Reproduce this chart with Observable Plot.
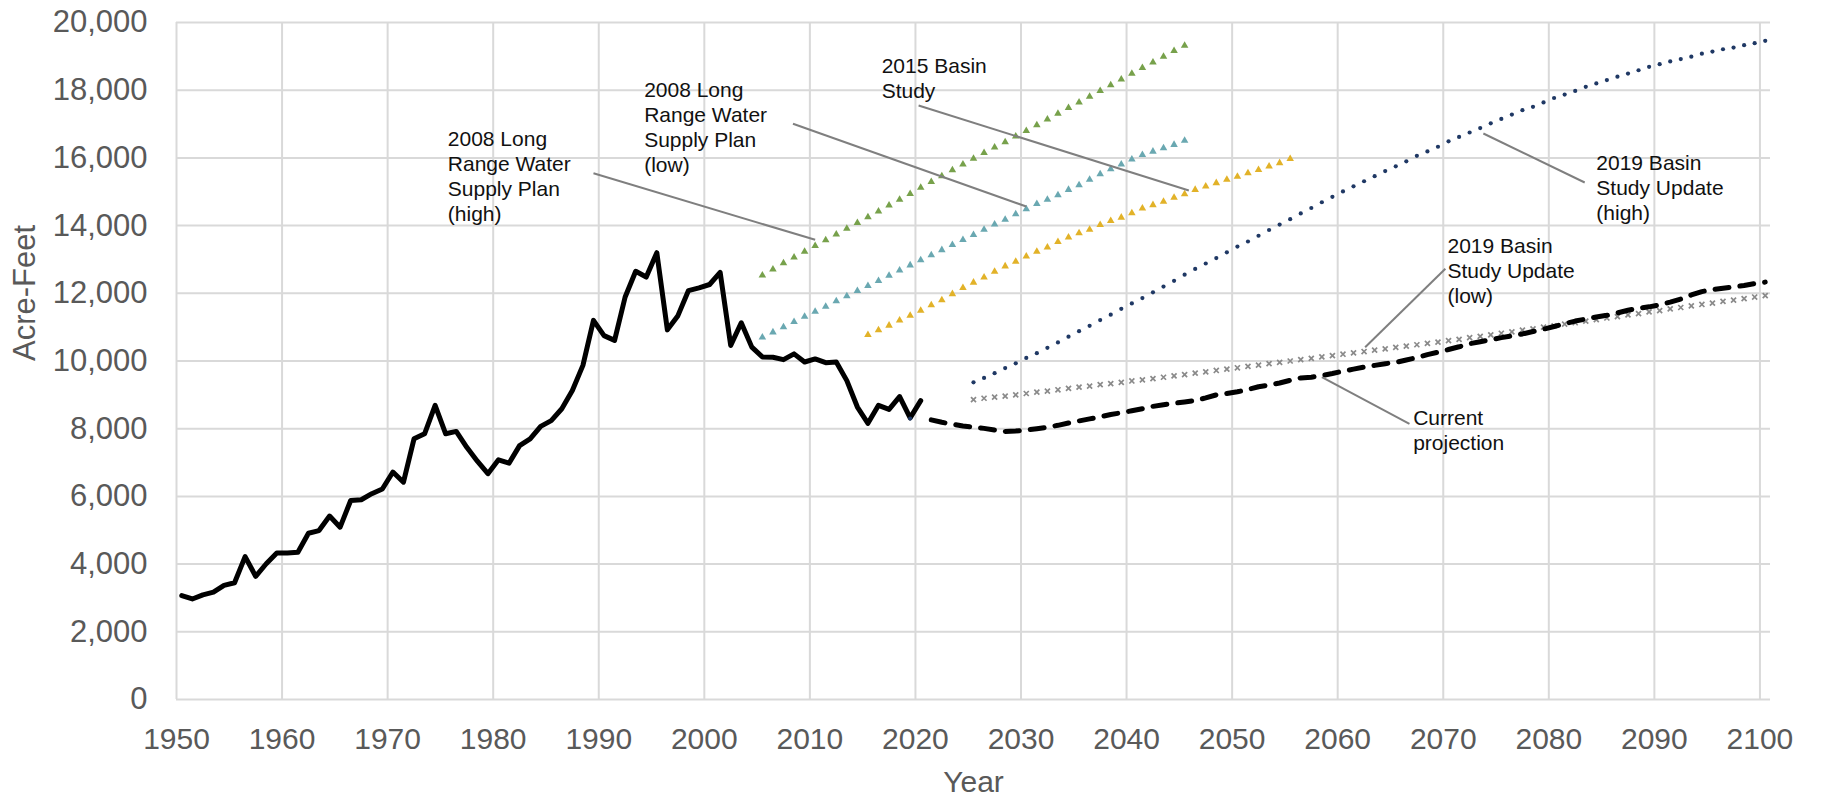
<!DOCTYPE html>
<html>
<head>
<meta charset="utf-8">
<script src="https://cdn.jsdelivr.net/npm/d3@7"></script>
<script src="https://cdn.jsdelivr.net/npm/@observablehq/plot@0.6"></script>
<style>
  html, body { margin: 0; padding: 0; background: #ffffff; }
  #chart { width: 1825px; height: 799px; }
</style>
</head>
<body>
<div id="chart"></div>
<script>
// ---------- data ----------
const xTicks = [1950, 1960, 1970, 1980, 1990, 2000, 2010, 2020, 2030, 2040, 2050, 2060, 2070, 2080, 2090, 2100];
const yTicks = [0, 2000, 4000, 6000, 8000, 10000, 12000, 14000, 16000, 18000, 20000];

// Historical use (annual, 1950–2020)
const histStart = 1950;
const histValues = [3070, 2970, 3090, 3170, 3370, 3450, 4220, 3640, 4010, 4330,
  4330, 4350, 4910, 4990, 5420, 5090, 5880, 5900, 6080, 6220,
  6720, 6420, 7700, 7850, 8690, 7850, 7920, 7450, 7040, 6670,
  7080, 6980, 7500, 7700, 8070, 8240, 8590, 9130, 9870, 11200,
  10750, 10610, 11890, 12650, 12480, 13200, 10920, 11340, 12080, 12160,
  12260, 12620, 10460, 11130, 10410, 10120, 10110, 10040, 10210, 9970,
  10060, 9950, 9970, 9420, 8640, 8160, 8690, 8570, 8950, 8320,
  8830];

// Current projection (annual, 2021–2100)
const projStart = 2021;
const projValues = [8260, 8190, 8130, 8080, 8050, 8010, 7960, 7920, 7930, 7960,
  8000, 8040, 8100, 8170, 8230, 8290, 8350, 8420, 8470, 8530,
  8590, 8660, 8710, 8750, 8790, 8830, 8910, 9000, 9040, 9090,
  9160, 9240, 9290, 9350, 9430, 9500, 9520, 9570, 9630, 9700,
  9760, 9820, 9870, 9920, 9960, 10030, 10100, 10190, 10260, 10340,
  10420, 10510, 10570, 10630, 10690, 10740, 10800, 10870, 10940, 11020,
  11100, 11180, 11240, 11300, 11350, 11420, 11500, 11560, 11600, 11660,
  11740, 11830, 11950, 12050, 12110, 12150, 12190, 12230, 12290, 12330];

// 2008 Long Range Water Supply Plan (high), 2005–2045
const lrwspHighStart = 2005;
const lrwspHighValues = [12530, 12710, 12890, 13060, 13230, 13400, 13570, 13740, 13910, 14080,
  14250, 14420, 14600, 14770, 14940, 15120, 15290, 15460, 15640, 15810,
  15980, 16150, 16310, 16470, 16640, 16800, 16970, 17140, 17310, 17480,
  17640, 17810, 17980, 18150, 18320, 18490, 18660, 18820, 18990, 19160,
  19320];

// 2008 Long Range Water Supply Plan (low), 2005–2045
const lrwspLowStart = 2005;
const lrwspLowValues = [10700, 10850, 11000, 11160, 11310, 11460, 11610, 11770, 11920, 12070,
  12220, 12370, 12520, 12680, 12830, 12980, 13130, 13280, 13430, 13580,
  13730, 13880, 14040, 14180, 14340, 14490, 14640, 14770, 14900, 15060,
  15200, 15360, 15520, 15670, 15810, 15960, 16090, 16190, 16290, 16390,
  16510];

// 2015 Basin Study, 2015–2055
const basin2015Start = 2015;
const basin2015Values = [10770, 10910, 11050, 11200, 11340, 11490, 11650, 11800, 11980, 12160,
  12320, 12470, 12640, 12800, 12940, 13090, 13230, 13360, 13520, 13650,
  13780, 13880, 14020, 14140, 14240, 14370, 14510, 14610, 14710, 14830,
  14930, 15060, 15160, 15260, 15360, 15450, 15550, 15650, 15750, 15850,
  15970];

// 2019 Basin Study Update (high): base year 2019, then 2025–2100
const update2019HighYears = [2019, 2025, 2026, 2027, 2028, 2029, 2030, 2031, 2032, 2033, 2034,
  2035, 2036, 2037, 2038, 2039, 2040, 2041, 2042, 2043, 2044,
  2045, 2046, 2047, 2048, 2049, 2050, 2051, 2052, 2053, 2054,
  2055, 2056, 2057, 2058, 2059, 2060, 2061, 2062, 2063, 2064,
  2065, 2066, 2067, 2068, 2069, 2070, 2071, 2072, 2073, 2074,
  2075, 2076, 2077, 2078, 2079, 2080, 2081, 2082, 2083, 2084,
  2085, 2086, 2087, 2088, 2089, 2090, 2091, 2092, 2093, 2094,
  2095, 2096, 2097, 2098, 2099, 2100];
const update2019HighValues = [8300, 9370, 9500, 9640, 9790, 9930, 10090, 10230, 10390, 10550, 10720,
  10880, 11040, 11210, 11370, 11540, 11700, 11860, 12030, 12200, 12370,
  12550, 12720, 12880, 13040, 13210, 13380, 13530, 13700, 13870, 14030,
  14190, 14360, 14520, 14690, 14850, 15010, 15160, 15310, 15460, 15610,
  15750, 15900, 16060, 16190, 16330, 16490, 16620, 16750, 16880, 17020,
  17150, 17280, 17410, 17510, 17640, 17770, 17870, 17980, 18100, 18200,
  18300, 18400, 18490, 18590, 18690, 18770, 18850, 18920, 18990, 19080,
  19140, 19210, 19260, 19330, 19390, 19460];

// 2019 Basin Study Update (low), 2025–2100
const update2019LowStart = 2025;
const update2019LowValues = [8860, 8900, 8930, 8960, 9000, 9040, 9080, 9110, 9150, 9190,
  9230, 9260, 9300, 9330, 9370, 9410, 9440, 9480, 9520, 9560,
  9600, 9640, 9680, 9720, 9760, 9800, 9840, 9880, 9920, 9960,
  10000, 10040, 10080, 10120, 10160, 10200, 10240, 10280, 10320, 10360,
  10400, 10440, 10480, 10520, 10560, 10600, 10640, 10690, 10730, 10770,
  10820, 10860, 10910, 10950, 11000, 11040, 11090, 11130, 11180, 11220,
  11270, 11310, 11360, 11400, 11450, 11490, 11540, 11580, 11630, 11670,
  11710, 11760, 11800, 11840, 11890, 11930];

// Annotations (data space)
const labelTexts = [
  "2008 Long\nRange Water\nSupply Plan\n(high)",
  "2008 Long\nRange Water\nSupply Plan\n(low)",
  "2015 Basin\nStudy",
  "2019 Basin\nStudy Update\n(high)",
  "2019 Basin\nStudy Update\n(low)",
  "Current\nprojection"
];
const labelYears = [1975.7, 1994.3, 2016.8, 2084.5, 2070.4, 2067.15];
const labelValues = [16870, 18316, 19025, 16160, 13707, 8635];
const leaderFromYears = [1989.5, 2008.4, 2020.3, 2073.8, 2070.2, 2066.8];
const leaderFromValues = [15548, 17007, 17548, 16721, 12723, 8145];
const leaderToYears = [2010.5, 2030.5, 2045.9, 2083.4, 2062.6, 2058.5];
const leaderToValues = [13580, 14564, 15037, 15273, 10408, 9522];

// ---------- build tables ----------
const seq = (start, values) => values.map((v, i) => ({year: start + i, value: v}));
const hist = seq(histStart, histValues);
const proj = seq(projStart, projValues);
const lrwspHigh = seq(lrwspHighStart, lrwspHighValues);
const lrwspLow = seq(lrwspLowStart, lrwspLowValues);
const basin2015 = seq(basin2015Start, basin2015Values);
const upHigh = update2019HighYears.map((y, i) => ({year: y, value: update2019HighValues[i]}));
const upLow = seq(update2019LowStart, update2019LowValues);
const labels = labelTexts.map((t, i) => ({text: t, year: labelYears[i], value: labelValues[i]}));
const leaders = leaderFromYears.map((y, i) => ({
  x1: y, y1: leaderFromValues[i], x2: leaderToYears[i], y2: leaderToValues[i]
}));

// annual values are plotted at mid-year
const X = d => d.year + 0.5;

const gridStyle = {stroke: "#d9d9d9", strokeOpacity: 1, strokeWidth: 2};

const chart = Plot.plot({
  width: 1825,
  height: 799,
  marginTop: 22,
  marginBottom: 100,
  marginLeft: 176,
  marginRight: 55,
  style: {fontFamily: "'Liberation Sans', Arial, sans-serif", fontSize: "30px", background: "#ffffff", overflow: "visible"},
  x: {domain: [1950, 2101], label: null},
  y: {domain: [0, 20000], label: null},
  marks: [
    Plot.gridY(yTicks, gridStyle),
    Plot.gridX(xTicks, gridStyle),
    Plot.axisX(xTicks, {tickSize: 0, tickPadding: 28, tickFormat: d => String(d), fontSize: 30, color: "#595959", label: null}),
    Plot.axisY(yTicks, {tickSize: 0, tickPadding: 29, tickFormat: d3.format(","), fontSize: 31, color: "#595959", label: null}),
    Plot.text(["Year"], {frameAnchor: "bottom", dy: 83, fontSize: 30, fill: "#595959", lineAnchor: "middle"}),
    Plot.text(["Acre-Feet"], {frameAnchor: "left", dx: -151, rotate: -90, fontSize: 31, fill: "#595959", lineAnchor: "middle"}),
    // scenario markers
    Plot.dot(lrwspHigh, {x: X, y: "value", symbol: "triangle", r: 2.8, fill: "#77a14b"}),
    Plot.dot(lrwspLow, {x: X, y: "value", symbol: "triangle", r: 2.8, fill: "#6aa8b1"}),
    Plot.dot(basin2015, {x: X, y: "value", symbol: "triangle", r: 2.8, fill: "#e2b228"}),
    Plot.dot(upLow, {x: X, y: "value", symbol: "times", r: 2.4, stroke: "#8a8a8a", strokeWidth: 1.7}),
    // history and projection
    Plot.line(hist, {x: X, y: "value", stroke: "#000000", strokeWidth: 5, strokeLinejoin: "round", strokeLinecap: "round"}),
    Plot.line(proj, {x: X, y: "value", stroke: "#000000", strokeWidth: 5, strokeDasharray: "14,11", strokeLinecap: "round", strokeLinejoin: "round"}),
    Plot.dot(upHigh, {x: X, y: "value", r: 2.1, fill: "#1f3864"}),
    // annotations
    Plot.link(leaders, {x1: "x1", y1: "y1", x2: "x2", y2: "y2", stroke: "#7f7f7f", strokeWidth: 2}),
    Plot.text(labels, {x: "year", y: "value", text: "text", textAnchor: "start", lineAnchor: "top", lineHeight: 1.19, fontSize: 21, fill: "#111111"})
  ]
});

document.getElementById("chart").appendChild(chart);
</script>
</body>
</html>
